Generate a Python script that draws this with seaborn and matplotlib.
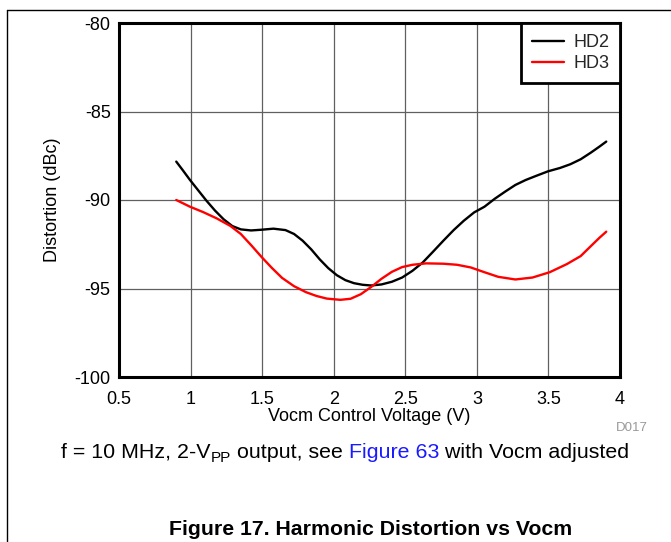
import numpy as np
import pandas as pd
import matplotlib
matplotlib.use('Agg')
import matplotlib.pyplot as plt
from matplotlib.lines import Line2D
import seaborn as sns

# values
hd2_v = [0.900, 0.944, 0.996, 1.051, 1.111, 1.171, 1.231, 1.291, 1.351, 1.423,
         1.495, 1.579, 1.663, 1.723, 1.783, 1.843, 1.903, 1.962, 2.022, 2.082,
         2.142, 2.202, 2.262, 2.334, 2.406, 2.478, 2.550, 2.622, 2.694, 2.766,
         2.838, 2.909, 2.981, 3.053, 3.125, 3.197, 3.269, 3.341, 3.413, 3.497,
         3.581, 3.653, 3.725, 3.797, 3.857, 3.904]
hd2_db = [-87.83, -88.30, -88.87, -89.43, -90.04, -90.60, -91.09, -91.47, -91.66, -91.72,
          -91.68, -91.62, -91.70, -91.92, -92.30, -92.79, -93.36, -93.85, -94.25, -94.53,
          -94.70, -94.79, -94.83, -94.77, -94.62, -94.38, -94.00, -93.53, -92.92, -92.30,
          -91.70, -91.17, -90.70, -90.38, -89.93, -89.53, -89.15, -88.87, -88.64, -88.38,
          -88.19, -87.98, -87.70, -87.32, -86.98, -86.70]

hd3_v = [0.900, 0.996, 1.087, 1.183, 1.279, 1.351, 1.423, 1.495, 1.567, 1.639,
         1.723, 1.807, 1.879, 1.951, 2.046, 2.118, 2.190, 2.262, 2.334, 2.406,
         2.478, 2.550, 2.646, 2.766, 2.862, 2.957, 3.053, 3.149, 3.269, 3.389,
         3.509, 3.629, 3.725, 3.797, 3.857, 3.904]
hd3_db = [-90.00, -90.38, -90.68, -91.04, -91.47, -91.92, -92.55, -93.21, -93.83, -94.40,
          -94.87, -95.21, -95.42, -95.57, -95.64, -95.58, -95.32, -94.91, -94.45, -94.06,
          -93.79, -93.66, -93.58, -93.60, -93.66, -93.81, -94.08, -94.34, -94.49, -94.38,
          -94.08, -93.62, -93.17, -92.60, -92.13, -91.79]

x_ticks = [0.5, 1, 1.5, 2, 2.5, 3, 3.5, 4]
x_tick_labels = ['0.5', '1', '1.5', '2', '2.5', '3', '3.5', '4']
y_ticks = [-100, -95, -90, -85, -80]
y_tick_labels = ['-100', '-95', '-90', '-85', '-80']

df = pd.concat([
    pd.DataFrame({'Vocm': hd2_v, 'Distortion': hd2_db, 'series': 'HD2'}),
    pd.DataFrame({'Vocm': hd3_v, 'Distortion': hd3_db, 'series': 'HD3'}),
], ignore_index=True)

sns.set_theme(style='white')
plt.rcParams['font.family'] = ['Liberation Sans', 'DejaVu Sans']
plt.rcParams['lines.solid_joinstyle'] = 'round'
plt.rcParams['lines.solid_capstyle'] = 'round'

W, H = 671, 542
fig = plt.figure(figsize=(W / 100, H / 100), dpi=100)
ax = fig.add_axes([119 / W, 1 - 377 / H, 501 / W, 354 / H])

sns.lineplot(data=df, x='Vocm', y='Distortion', hue='series',
             palette={'HD2': 'black', 'HD3': '#ff0000'}, linewidth=1.7,
             sort=False, ax=ax)

ax.set_xlim(0.5, 4)
ax.set_ylim(-100, -80)
ax.set_xticks(x_ticks)
ax.set_xticklabels(x_tick_labels)
ax.set_yticks(y_ticks)
ax.set_yticklabels(y_tick_labels)
ax.grid(True, color='#606060', linewidth=0.9)
ax.set_axisbelow(True)
for sp in ax.spines.values():
    sp.set_linewidth(2.2)
    sp.set_color('black')
    sp.set_visible(True)
ax.tick_params(axis='both', length=0, labelsize=13, colors='black')
ax.tick_params(axis='x', pad=10)
ax.tick_params(axis='y', pad=6)
ax.set_xlabel('Vocm Control Voltage (V)', fontsize=13, labelpad=0, color='black')
ax.set_ylabel('Distortion (dBc)', fontsize=13, labelpad=10, color='black')

leg = ax.legend(loc='upper right', borderaxespad=0, fontsize=13, frameon=True,
                fancybox=False, handlelength=1.8, handletextpad=0.5,
                borderpad=0.6, labelspacing=0.25, title=None)
leg.get_frame().set_edgecolor('black')
leg.get_frame().set_linewidth(2.0)
leg.get_frame().set_alpha(1)
for h in leg.get_lines():
    h.set_linewidth(1.7)

# page frame lines
fig.add_artist(Line2D([7 / W, 1], [1 - 9.5 / H] * 2, color='black', lw=1.0,
                      transform=fig.transFigure))
fig.add_artist(Line2D([7 / W] * 2, [0, 1 - 9.5 / H], color='black', lw=1.0,
                      transform=fig.transFigure))

fig.text(632 / W, 1 - 428 / H, 'D017', fontsize=9.5, color='#999999',
         ha='center', va='center')

# caption built from pieces so the subscript and the link colour can differ
fig.canvas.draw()
renderer = fig.canvas.get_renderer()
pieces = [('f = 10 MHz, 2-V', 15.4, 'black', 0),
          ('PP', 11, 'black', -4),
          (' output, see ', 15.4, 'black', 0),
          ('Figure 63', 15.4, '#1a1aff', 0),
          (' with Vocm adjusted', 15.4, 'black', 0)]
x = 61
base = 458
for txt, size, col, dy in pieces:
    t = fig.text(x / W, 1 - (base - dy) / H, txt, fontsize=size, color=col,
                 ha='left', va='baseline')
    bb = t.get_window_extent(renderer=renderer)
    x += bb.width

fig.text(371 / W, 1 - 535 / H, 'Figure 17. Harmonic Distortion vs Vocm',
         fontsize=15.3, fontweight='bold', color='black', ha='center', va='baseline')

fig.savefig('out.png', dpi=100)
